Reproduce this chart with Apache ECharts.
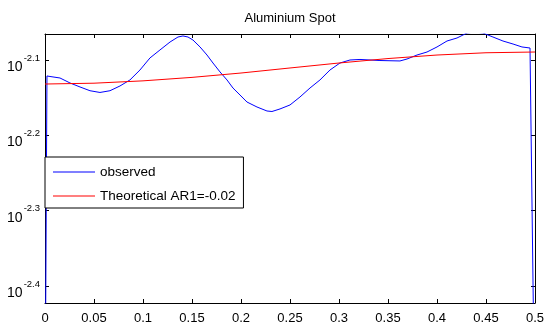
<!DOCTYPE html>
<html>
<head>
<meta charset="utf-8">
<script src="https://cdn.jsdelivr.net/npm/echarts@6/dist/echarts.min.js"></script>
<style>
  html, body { margin: 0; padding: 0; background: #fff; }
  #chart { width: 548px; height: 330px; }
</style>
</head>
<body>
<div id="chart"></div>
<script>
const observedFreq = [0, 0.002, 0.0051, 0.0153, 0.0255, 0.0357, 0.0459, 0.0561, 0.0663, 0.0765,
  0.0867, 0.0969, 0.1071, 0.1173, 0.1276, 0.1357, 0.1408, 0.1459, 0.151, 0.1582,
  0.1653, 0.1714, 0.1786, 0.1857, 0.1918, 0.199, 0.2061, 0.2163, 0.2265, 0.2316,
  0.2398, 0.25, 0.2602, 0.2704, 0.2806, 0.2908, 0.301, 0.3112, 0.3214, 0.3418,
  0.3622, 0.3694, 0.3796, 0.3898, 0.4, 0.4102, 0.4204, 0.4306, 0.4388, 0.4469,
  0.4571, 0.4673, 0.4776, 0.4867, 0.4949, 0.4966, 0.5];
const observedLog = [-2.6, -2.1212, -2.1219, -2.1239, -2.1305, -2.1358, -2.1408, -2.1431, -2.1408, -2.1345,
  -2.1265, -2.1133, -2.0973, -2.0867, -2.0761, -2.0695, -2.0681, -2.0695, -2.0735, -2.0827,
  -2.0934, -2.104, -2.1159, -2.1265, -2.1372, -2.1465, -2.1558, -2.1624, -2.1677, -2.1684,
  -2.165, -2.1597, -2.1491, -2.1372, -2.1265, -2.1133, -2.104, -2.1, -2.0993, -2.1007,
  -2.1013, -2.0987, -2.0934, -2.0894, -2.0827, -2.0748, -2.0708, -2.0642, -2.0628, -2.0642,
  -2.0695, -2.0748, -2.0788, -2.0827, -2.0841, -2.0854, -2.6];

const theoFreq = [0, 0.05, 0.1, 0.15, 0.2, 0.25, 0.3, 0.35, 0.4, 0.45, 0.5];
const theoLog = [-2.1319, -2.1308, -2.1277, -2.1231, -2.1173, -2.1106, -2.104, -2.0981, -2.0934, -2.0904, -2.0894];

const yTicks = [-2.4, -2.3, -2.2, -2.1];
const Y_MIN = -2.4226;
const Y_MAX = -2.0655;

const FONT = "'Liberation Sans', Arial, sans-serif";
const INK = "#000";

const pairs = (xs, ys) => xs.map((x, i) => [x, ys[i]]);

const tickCommon = { show: true, inside: true, length: 4, lineStyle: { color: INK, width: 1 } };
const lineCommon = { show: true, onZero: false, lineStyle: { color: INK, width: 1 } };

const chart = echarts.init(document.getElementById("chart"), null, { renderer: "canvas" });
chart.setOption({
  animation: false,
  backgroundColor: "#fff",
  textStyle: { fontFamily: FONT },
  title: {
    text: "Aluminium Spot",
    left: 290,
    top: 12,
    padding: 0,
    textAlign: "center",
    textStyle: { fontFamily: FONT, fontSize: 13, fontWeight: "normal", color: INK },
  },
  grid: { left: 45, right: 13, top: 34, bottom: 27 },
  legend: {
    orient: "vertical",
    left: 45,
    top: 157,
    padding: [8, 8, 5, 8],
    itemGap: 10,
    itemWidth: 42,
    itemHeight: 1,
    icon: "rect",
    backgroundColor: "#fff",
    borderColor: INK,
    borderWidth: 1,
    borderRadius: 0,
    textStyle: { fontFamily: FONT, fontSize: 13.5, color: INK },
    data: ["observed", "Theoretical AR1=-0.02"],
  },
  xAxis: [
    {
      type: "value",
      min: 0,
      max: 0.5,
      interval: 0.05,
      axisLine: lineCommon,
      axisTick: tickCommon,
      splitLine: { show: false },
      axisLabel: { color: INK, fontFamily: FONT, fontSize: 13, margin: 9 },
    },
    {
      type: "value",
      position: "top",
      min: 0,
      max: 0.5,
      interval: 0.05,
      axisLine: lineCommon,
      axisTick: tickCommon,
      splitLine: { show: false },
      axisLabel: { show: false },
    },
  ],
  yAxis: [
    {
      type: "value",
      min: Y_MIN,
      max: Y_MAX,
      axisLine: lineCommon,
      axisTick: { ...tickCommon, customValues: yTicks },
      splitLine: { show: false },
      axisLabel: {
        customValues: yTicks,
        margin: 5,
        formatter: (v) => `{b|10}{s|${v.toFixed(1)}}`,
        rich: {
          b: { fontFamily: FONT, fontSize: 14, color: INK, padding: [14, 0, 0, 0] },
          s: { fontFamily: FONT, fontSize: 9.5, color: INK, padding: [0, 0, 4, 1] },
        },
      },
    },
    {
      type: "value",
      position: "right",
      min: Y_MIN,
      max: Y_MAX,
      axisLine: lineCommon,
      axisTick: { ...tickCommon, customValues: yTicks },
      splitLine: { show: false },
      axisLabel: { show: false },
    },
  ],
  series: [
    {
      name: "observed",
      type: "line",
      symbol: "none",
      clip: true,
      data: pairs(observedFreq, observedLog),
      lineStyle: { color: "#0000ff", width: 1 },
      itemStyle: { color: "#0000ff" },
    },
    {
      name: "Theoretical AR1=-0.02",
      type: "line",
      symbol: "none",
      clip: true,
      data: pairs(theoFreq, theoLog),
      lineStyle: { color: "#ff0000", width: 1 },
      itemStyle: { color: "#ff0000" },
    },
  ],
});
</script>
</body>
</html>
